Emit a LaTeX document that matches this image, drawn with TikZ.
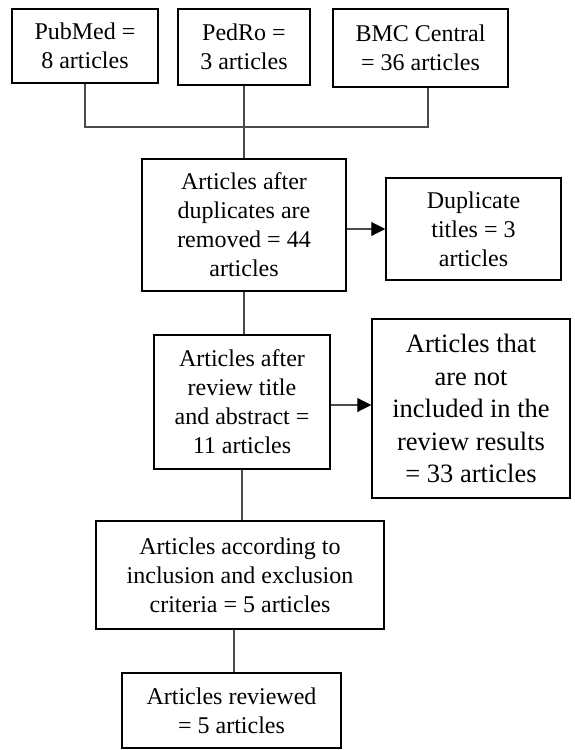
\documentclass[tikz,border=0pt]{standalone}
\usepackage{fontspec}
\setmainfont{Liberation Serif}
\usetikzlibrary{arrows.meta}
\definecolor{linegray}{HTML}{4A4A4A}
\tikzset{
  box/.style={draw=black, line width=1.5pt, fill=white, align=center, inner sep=0pt,
    font=\fontsize{24}{29}\selectfont},
  bigbox/.style={box, font=\fontsize{26.5}{32.5}\selectfont},
  link/.style={draw=linegray, line width=1.1pt},
  arr/.style={link, -{Triangle[length=14pt,width=14pt,color=black,fill=black]}}
}
\begin{document}
\begin{tikzpicture}[x=1pt,y=-1pt]
\useasboundingbox (0,0) rectangle (574,750);
\fill[white] (0,0) rectangle (574,750);

\node[box, minimum width=146pt, minimum height=74pt] (pub) at (85,46) {PubMed =\\8 articles};
\node[box, minimum width=132pt, minimum height=76pt] (ped) at (244,47) {PedRo =\\3 articles};
\node[box, minimum width=175pt, minimum height=78pt] (bmc) at (420.5,48) {BMC Central\\= 36 articles};

\node[box, minimum width=204pt, minimum height=132pt] (a1) at (244,225) {Articles after\\duplicates are\\removed = 44\\articles};
\node[box, minimum width=175pt, minimum height=102pt] (dup) at (473.5,229) {Duplicate\\titles = 3\\articles};

\node[box, minimum width=176pt, minimum height=134pt] (a2) at (242,402) {Articles after\\review title\\and abstract =\\11 articles};
\node[bigbox, minimum width=198pt, minimum height=179pt] (notinc) at (471,408.5) {Articles that\\are not\\included in the\\review results\\= 33 articles};

\node[box, minimum width=288pt, minimum height=108pt] (a3) at (240,575) {Articles according to\\inclusion and exclusion\\criteria = 5 articles};
\node[box, minimum width=219pt, minimum height=75pt] (a4) at (231.5,710.5) {Articles reviewed\\= 5 articles};

\coordinate (j1) at (85,127);
\coordinate (j3) at (428,127);

\draw[link] (pub.south) -- (j1) -- (j3) -- (j3 |- bmc.south);
\draw[link] (ped.south) -- (a1.north);
\draw[link] (a1.south) -- (a1.south |- a2.north);
\draw[link] (a2.south) -- (a2.south |- a3.north);
\draw[link] (a4.north -| 234,0) -- (a3.south -| 234,0);

\draw[arr] (a1.east |- dup.west) -- (dup.west);
\draw[arr] (a2.east |- 0,405) -- (notinc.west |- 0,405);
\end{tikzpicture}
\end{document}
